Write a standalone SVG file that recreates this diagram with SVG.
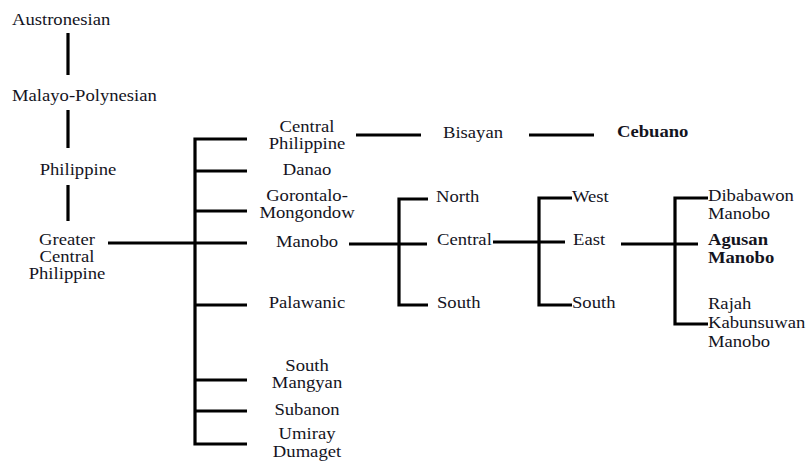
<svg xmlns="http://www.w3.org/2000/svg" width="806" height="462" viewBox="0 0 806 462">
<style>
text{font-family:"Liberation Serif","Times New Roman",serif;font-size:16.5px;fill:#14141e}
.m{text-anchor:middle}
.b{font-weight:bold}
.c path{fill:none;stroke:#000;stroke-width:3.2;stroke-linejoin:miter;stroke-linecap:butt}
</style>
<rect width="806" height="462" fill="#fff"/>
<g id="connectors" class="c">
<path d="M68 33V75M68 110V148M68 185V221"/>
<path d="M108 243H247"/>
<path d="M247 139H195V444H247M195 171H247M195 211H247M195 305H247M195 380H247M195 411H247"/>
<path d="M356 135H421M529 135H594"/>
<path d="M349 244H427M428 199H399V305H428"/>
<path d="M493 242H565M572 198H539V305H572"/>
<path d="M621 244H698M708 198H675V324H708"/>
</g>
<g transform="scale(1.13 1)">
<g id="austronesian"><text x="10.6" y="25">Austronesian</text></g>
<g id="malayo-polynesian"><text x="10.6" y="101">Malayo-Polynesian</text></g>
<g id="philippine"><text class="m" x="69" y="175">Philippine</text></g>
<g id="greater-central-philippine"><text class="m" x="59.3" y="245">Greater</text><text class="m" x="59.3" y="262">Central</text><text class="m" x="59.3" y="279">Philippine</text></g>
<g id="central-philippine"><text class="m" x="271.7" y="132">Central</text><text class="m" x="271.7" y="149">Philippine</text></g>
<g id="danao"><text class="m" x="271.7" y="175">Danao</text></g>
<g id="gorontalo-mongondow"><text class="m" x="271.7" y="201">Gorontalo-</text><text class="m" x="271.7" y="218">Mongondow</text></g>
<g id="manobo"><text class="m" x="271.7" y="247">Manobo</text></g>
<g id="palawanic"><text class="m" x="271.7" y="308">Palawanic</text></g>
<g id="south-mangyan"><text class="m" x="271.7" y="371">South</text><text class="m" x="271.7" y="388">Mangyan</text></g>
<g id="subanon"><text class="m" x="271.7" y="415">Subanon</text></g>
<g id="umiray-dumaget"><text class="m" x="271.7" y="439">Umiray</text><text class="m" x="271.7" y="457">Dumaget</text></g>
<g id="bisayan"><text class="m" x="418.6" y="138">Bisayan</text></g>
<g id="cebuano"><text class="b" x="546" y="137">Cebuano</text></g>
<g id="north"><text x="385.8" y="202">North</text></g>
<g id="central"><text x="386.7" y="245">Central</text></g>
<g id="south-1"><text x="386.7" y="308">South</text></g>
<g id="west"><text x="506.2" y="202">West</text></g>
<g id="east"><text x="507.1" y="245">East</text></g>
<g id="south-2"><text x="506.2" y="308">South</text></g>
<g id="dibabawon-manobo"><text x="626.5" y="201">Dibabawon</text><text x="626.5" y="219">Manobo</text></g>
<g id="agusan-manobo"><text class="b" x="626.5" y="245">Agusan</text><text class="b" x="626.5" y="263">Manobo</text></g>
<g id="rajah-kabunsuwan-manobo"><text x="626.5" y="309">Rajah</text><text x="626.5" y="328">Kabunsuwan</text><text x="626.5" y="347">Manobo</text></g>
</g>
</svg>
